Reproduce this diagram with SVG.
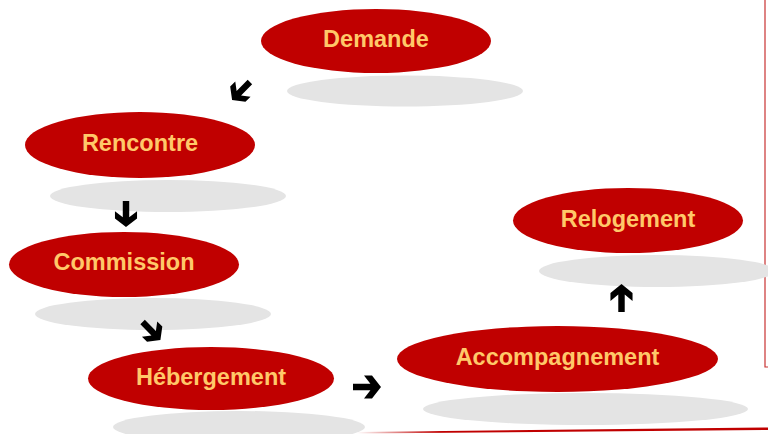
<svg xmlns="http://www.w3.org/2000/svg" width="768" height="434" viewBox="0 0 768 434">
  <defs>
    <style>
      .shadow { fill: #E4E4E4; }
      .node { fill: #C00000; }
      .label { font-family: "Liberation Sans", Arial, sans-serif; font-weight: bold; font-size: 23.5px; fill: #FFC869; text-anchor: middle; }
      .arrow { fill: #000000; }
      .frame { stroke: #C83232; stroke-width: 1.2; fill: none; }
    </style>
    <polygon id="arw" points="-14,-3.5 3.4,-3.5 -3,-12 5,-12 14,0 5,12 -3,12 3.4,3.5 -14,3.5"/>
    <linearGradient id="fade" x1="357" y1="0" x2="440" y2="0" gradientUnits="userSpaceOnUse">
      <stop offset="0" stop-color="#C00000" stop-opacity="0"/>
      <stop offset="1" stop-color="#C00000" stop-opacity="1"/>
    </linearGradient>
  </defs>
  <rect width="768" height="434" fill="#FFFFFF"/>

  <g id="frame">
    <polyline class="frame" points="765,0 765,367 768,367"/>
    <polygon points="357,432 768,427.5 768,430 357,433.5" fill="url(#fade)"/>
  </g>

  <g id="node-demande">
    <ellipse class="shadow" cx="405" cy="91" rx="118" ry="15.5"/>
    <ellipse class="node" cx="376" cy="41" rx="115" ry="32"/>
    <text class="label" x="376" y="47">Demande</text>
  </g>
  <g id="node-rencontre">
    <ellipse class="shadow" cx="168" cy="196" rx="118" ry="16"/>
    <ellipse class="node" cx="140" cy="145" rx="115" ry="33"/>
    <text class="label" x="140" y="151">Rencontre</text>
  </g>
  <g id="node-commission">
    <ellipse class="shadow" cx="153" cy="314" rx="118" ry="16"/>
    <ellipse class="node" cx="124" cy="264.5" rx="115" ry="32.5"/>
    <text class="label" x="124" y="270">Commission</text>
  </g>
  <g id="node-hebergement">
    <ellipse class="shadow" cx="239" cy="427" rx="126" ry="16"/>
    <ellipse class="node" cx="211" cy="378.5" rx="123" ry="31.5"/>
    <text class="label" x="211" y="385">Hébergement</text>
  </g>
  <g id="node-accompagnement">
    <ellipse class="shadow" cx="585.5" cy="409" rx="162.5" ry="16"/>
    <ellipse class="node" cx="557.5" cy="359" rx="160.5" ry="33"/>
    <text class="label" x="557.5" y="365">Accompagnement</text>
  </g>
  <g id="node-relogement">
    <ellipse class="shadow" cx="657" cy="271" rx="118" ry="16"/>
    <ellipse class="node" cx="628" cy="220.5" rx="115" ry="32.5"/>
    <text class="label" x="628" y="227">Relogement</text>
  </g>

  <g id="connectors" class="arrow">
    <use href="#arw" transform="translate(241,91) rotate(135) scale(0.9)"/>
    <use href="#arw" transform="translate(126,214) rotate(90) scale(0.92)"/>
    <use href="#arw" transform="translate(151.5,331) rotate(45) scale(0.9)"/>
    <use href="#arw" transform="translate(367,387) scale(1,0.95)"/>
    <use href="#arw" transform="translate(621.5,298) rotate(-90) scale(1,0.92)"/>
  </g>
</svg>
